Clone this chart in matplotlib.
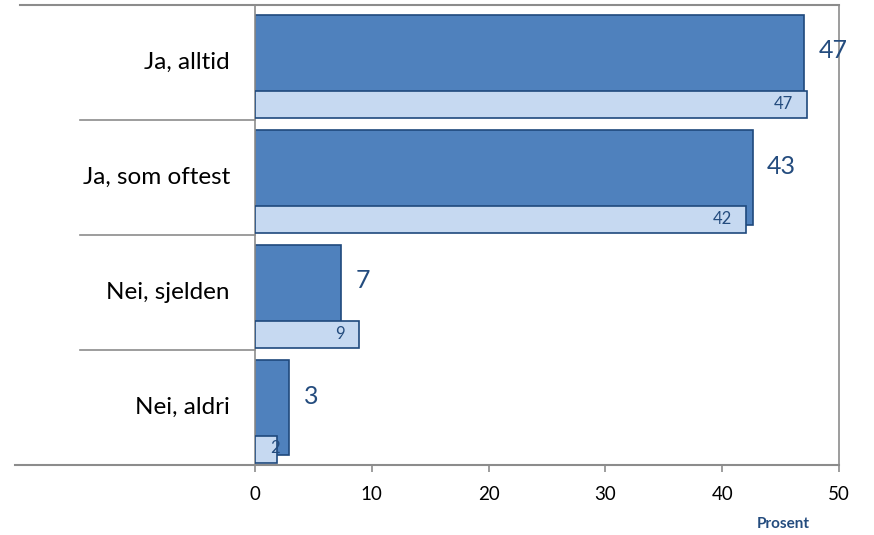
import matplotlib
matplotlib.use('Agg')
import matplotlib.pyplot as plt
import matplotlib.transforms as mtransforms

plt.rcParams['font.family'] = ['Lato', 'DejaVu Sans']

categories = ['Ja, alltid', 'Ja, som oftest', 'Nei, sjelden', 'Nei, aldri']
dark_vals = [47.0, 42.6, 7.4, 2.9]
light_vals = [47.3, 42.0, 8.9, 1.9]
ticks = [0, 10, 20, 30, 40, 50]

dark_fill = '#4F81BD'
light_fill = '#C6D9F1'
edge = '#1F497D'
label_col = '#244C7E'
grey = '#8C8C8C'

fig = plt.figure(figsize=(8.74, 5.35), dpi=100)
ax = fig.add_axes([255 / 874, 70 / 535, 584 / 874, 460 / 535])

y = list(range(len(categories)))
ax.barh(y, dark_vals, height=0.826, color=dark_fill, edgecolor=edge, linewidth=1.2, zorder=2)
ax.barh([i + 0.365 for i in y], light_vals, height=0.235, color=light_fill,
        edgecolor=edge, linewidth=1.2, zorder=3)

for i, v in enumerate(dark_vals):
    ax.text(v + 1.25, i - 0.1, f'{v:.0f}', fontsize=18, color=label_col,
            ha='left', va='center', zorder=4)
for i, v in enumerate(light_vals):
    if v > 5:
        ax.text(v - 1.2, i + 0.365, f'{v:.0f}', fontsize=12, color=label_col,
                ha='right', va='center', zorder=4)
    else:
        ax.text(v + 0.2, i + 0.35, f'{v:.0f}', fontsize=12, color=label_col,
                ha='right', va='center', zorder=4)

ax.set_xlim(0, 50)
ax.set_ylim(3.5, -0.5)
ax.set_xticks(ticks)
ax.set_xticklabels([str(t) for t in ticks], fontsize=13.5)
ax.set_yticks([])
ax.tick_params(axis='x', direction='out', length=5, width=1.2, color=grey, pad=10)

for s in ['left', 'right']:
    ax.spines[s].set_color(grey)
    ax.spines[s].set_linewidth(1.2)
ax.spines['top'].set_visible(False)
ax.spines['bottom'].set_visible(False)

trans = mtransforms.blended_transform_factory(ax.transAxes, ax.transData)
# outer top/bottom lines extending left
ax.plot([-0.402, 1.0], [-0.5, -0.5], transform=trans, color=grey, lw=1.5, clip_on=False)
ax.plot([-0.411, 1.0], [3.5, 3.5], transform=trans, color=grey, lw=1.5, clip_on=False)
# category separators
for yy in [0.5, 1.5, 2.5]:
    ax.plot([-0.30, 0.0], [yy, yy], transform=trans, color=grey, lw=1.2, clip_on=False)

for i, c in enumerate(categories):
    ax.text(-0.043, i, c, transform=trans, fontsize=17.5, ha='right', va='center', color='black')

fig.text(783 / 874, 1 - 524 / 535, 'Prosent', fontsize=11, fontweight='bold',
         color=label_col, ha='center', va='center')

fig.savefig('out.png', dpi=100)
